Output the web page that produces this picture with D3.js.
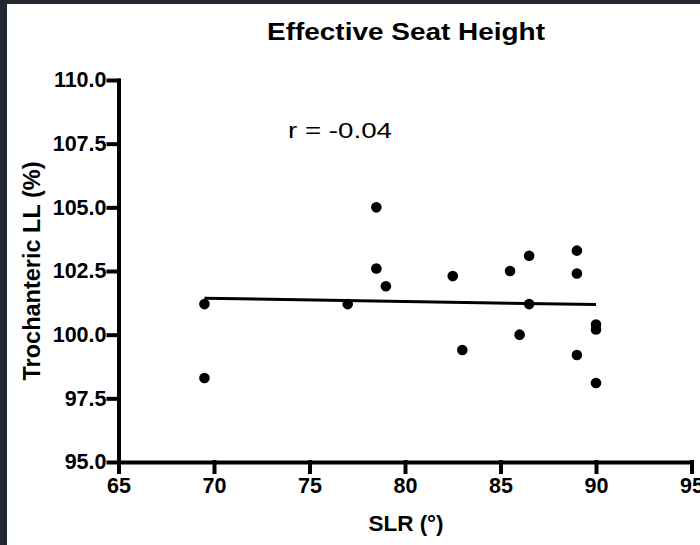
<!DOCTYPE html>
<html>
<head>
<meta charset="utf-8">
<script src="https://cdn.jsdelivr.net/npm/d3@7"></script>
<style>
  body { margin: 0; background: #232830; }
  svg { display: block; }
</style>
</head>
<body>
<div id="chart"></div>
<script>
// SLR (degrees) and trochanteric LL (%)
const slr = [69.5, 69.5, 77.0, 78.5, 78.5, 79.0, 82.5, 83.0, 85.5, 86.5, 86.5, 86.0, 89.0, 89.0, 89.0, 90.0, 90.0, 90.0];
const trochLL = [101.2, 98.3, 101.2, 105.0, 102.6, 101.9, 102.3, 99.4, 102.5, 103.1, 101.2, 100.0, 103.3, 102.4, 99.2, 100.4, 100.2, 98.1];

// regression line end points
const fitX = [69.5, 90.0];
const fitY = [101.43, 101.18];

const xTicks = [65, 70, 75, 80, 85, 90, 95];
const yTicks = [95, 97.5, 100, 102.5, 105, 107.5, 110];

const width = 700;
const height = 545;
const margin = { top: 80, right: 8.5, bottom: 83, left: 118.5 };
const fontFamily = '"Liberation Sans", Arial, sans-serif';

const svg = d3.select('#chart').append('svg')
    .attr('width', width)
    .attr('height', height);

// dark frame and white panel
svg.append('rect')
    .attr('width', width).attr('height', height)
    .attr('fill', '#232830');
svg.append('rect')
    .attr('x', 7).attr('y', 4)
    .attr('width', width - 7).attr('height', height - 4)
    .attr('fill', '#ffffff');

const xScale = d3.scaleLinear()
    .domain([65, 95])
    .range([margin.left, width - margin.right]);

const yScale = d3.scaleLinear()
    .domain([95, 110])
    .range([height - margin.bottom, margin.top]);

// x axis
const xAxis = svg.append('g')
    .attr('transform', `translate(0, ${yScale(95)})`)
    .call(d3.axisBottom(xScale).tickValues(xTicks).tickSize(10).tickSizeOuter(0).tickPadding(6));

// y axis
const yAxis = svg.append('g')
    .attr('transform', `translate(${xScale(65)}, 0)`)
    .call(d3.axisLeft(yScale).tickValues(yTicks).tickSize(10).tickSizeOuter(0).tickPadding(2)
        .tickFormat(d3.format('.1f')));

[xAxis, yAxis].forEach(g => {
    g.attr('font-family', fontFamily).attr('font-size', 21.5).attr('font-weight', 'bold');
    g.selectAll('path, line')
        .attr('stroke', '#000')
        .attr('stroke-width', 4)
        .attr('stroke-linecap', 'square');
    g.selectAll('text').attr('fill', '#000');
});

// regression line
svg.append('line')
    .attr('x1', xScale(fitX[0])).attr('y1', yScale(fitY[0]))
    .attr('x2', xScale(fitX[1])).attr('y2', yScale(fitY[1]))
    .attr('stroke', '#000')
    .attr('stroke-width', 3);

// points
svg.selectAll('.dot')
    .data(slr)
    .enter().append('circle')
    .attr('class', 'dot')
    .attr('cx', d => xScale(d))
    .attr('cy', (d, i) => yScale(trochLL[i]))
    .attr('r', 5.3)
    .attr('fill', '#000');

// title
svg.append('text')
    .attr('x', 406)
    .attr('y', 39.5)
    .attr('text-anchor', 'middle')
    .attr('font-family', fontFamily)
    .attr('font-weight', 'bold')
    .attr('font-size', 23.5)
    .attr('textLength', 278)
    .attr('lengthAdjust', 'spacingAndGlyphs')
    .text('Effective Seat Height');

// correlation label
svg.append('text')
    .attr('x', 288)
    .attr('y', 138)
    .attr('font-family', fontFamily)
    .attr('font-size', 22)
    .attr('textLength', 104)
    .attr('lengthAdjust', 'spacingAndGlyphs')
    .text('r = -0.04');

// axis titles
svg.append('text')
    .attr('x', 406)
    .attr('y', 531)
    .attr('text-anchor', 'middle')
    .attr('font-family', fontFamily)
    .attr('font-weight', 'bold')
    .attr('font-size', 22.5)
    .text('SLR (°)');

svg.append('text')
    .attr('transform', 'translate(40, 271) rotate(-90)')
    .attr('text-anchor', 'middle')
    .attr('font-family', fontFamily)
    .attr('font-weight', 'bold')
    .attr('font-size', 23.5)
    .text('Trochanteric LL (%)');
</script>
</body>
</html>
